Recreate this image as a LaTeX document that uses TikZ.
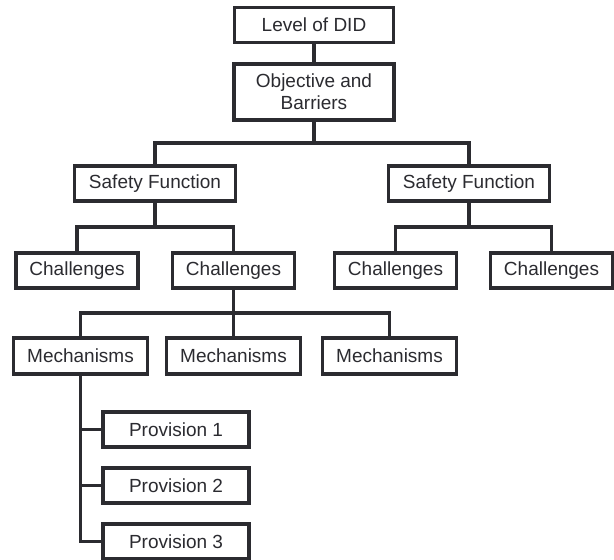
\documentclass[tikz,border=0pt]{standalone}
\usepackage{fontspec}
\setmainfont{Liberation Sans}
\usepackage{tikz}
\usetikzlibrary{calc}
\definecolor{lineGray}{HTML}{2B2B30}

\begin{document}
\begin{tikzpicture}
      [x=1pt,y=-1pt,
       nodeBox/.style={draw=lineGray,line width=3.2pt,fill=white,text=lineGray,
         inner sep=0pt,minimum height=35pt,align=center,
         font=\fontsize{19}{22}\selectfont},
       nodeConn/.style={draw=lineGray,line width=3.2pt}]
      \useasboundingbox (0,0) rectangle (614,560);

      \node[nodeBox,minimum width=159pt] (lvl) at (314,25) {Level of DID};
      \node[nodeBox,minimum width=160pt,minimum height=56pt] (obj) at (314,92) {Objective and\\Barriers};
      \node[nodeBox,minimum width=161pt] (sfL) at (155,183.5) {Safety Function};
      \node[nodeBox,minimum width=161pt] (sfR) at (469,183.5) {Safety Function};
      \node[nodeBox,minimum width=122pt] (chA) at (77,270.5) {Challenges};
      \node[nodeBox,minimum width=122pt] (chB) at (233.5,270.5) {Challenges};
      \node[nodeBox,minimum width=122pt] (chC) at (395.5,270.5) {Challenges};
      \node[nodeBox,minimum width=122pt] (chD) at (551.5,270.5) {Challenges};
      \node[nodeBox,minimum width=134pt,minimum height=36pt] (meA) at (80.5,356) {Mechanisms};
      \node[nodeBox,minimum width=134pt,minimum height=36pt] (meB) at (233.5,356) {Mechanisms};
      \node[nodeBox,minimum width=134pt,minimum height=36pt] (meC) at (389.5,356) {Mechanisms};
      \node[nodeBox,minimum width=146pt] (prA) at (176,429.5) {Provision 1};
      \node[nodeBox,minimum width=146pt] (prB) at (176,485.5) {Provision 2};
      \node[nodeBox,minimum width=146pt] (prC) at (176,541.5) {Provision 3};

      \draw[nodeConn] (lvl) -- (obj);

      \foreach \from/\to in {obj/sfL,obj/sfR,sfL/chA,sfL/chB,sfR/chC,sfR/chD,chB/meA,chB/meB,chB/meC}
      \draw[nodeConn] (\from.south) |- ($(\from.south)!0.5!(\to.north)$) -| (\to.north);

      \foreach \to in {prA,prB,prC}
      % provisions hang off one trunk
      \draw[nodeConn] (meA.south) |- (\to.west);
    \end{tikzpicture}
\end{document}
